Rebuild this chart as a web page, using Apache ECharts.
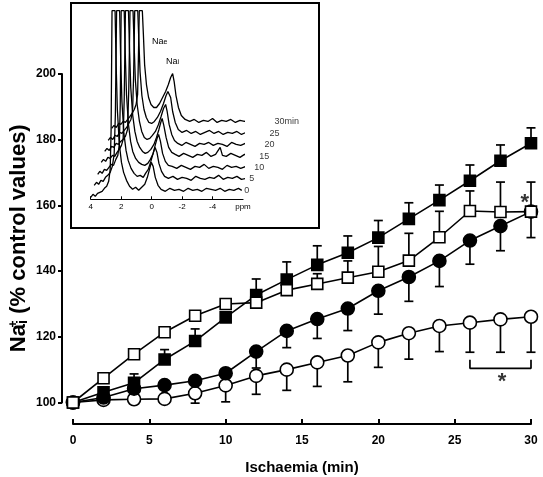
<!DOCTYPE html>
<html><head><meta charset="utf-8">
<script src="https://cdn.jsdelivr.net/npm/echarts@6/dist/echarts.min.js"></script>
<style>html,body{margin:0;padding:0;background:#fff}#c{width:543px;height:477px}</style>
</head><body><div id="c"></div>
<script>
// ---------- main chart data ----------
const times = [0,2,4,6,8,10,12,14,16,18,20,22,24,26,28,30];
const xTicks = [0,5,10,15,20,25,30];
const yTicks = [100,120,140,160,180,200];

const sqFilled    = [100,103.1,106,113.1,118.7,125.9,132.7,137.4,141.9,145.6,150.2,155.9,161.6,167.5,173.6,178.9];
const sqFilledErr = [0,0,2.7,3,3.7,1.5,4.9,5.4,5.8,5.1,5.2,4.9,4.6,4.8,4.8,4.7];

const sqOpen      = [100,107.4,114.7,121.4,126.4,130,130.4,134.2,136.1,138,139.8,143.2,150.3,158.3,158,158.1];
const sqOpenErr   = [0,0,0,0,0,0,0,0,3.1,5.1,7.7,8.3,7.9,6.1,9.1,9];

const ciFilled    = [100,101.5,104.2,105.3,106.6,108.9,115.5,121.8,125.4,128.6,134,138.2,143.1,149.3,153.7,158.1];
const ciFilledErr = [0,0,0,0,0,0,5,5.1,5.9,6.7,7.1,7.4,7.8,7.2,7.5,7.9];

const ciOpen      = [100,100.8,101,101.1,102.8,105.2,108.1,110,112.2,114.3,118.3,121.1,123.3,124.3,125.3,126.1];
const ciOpenErr   = [0,0,0,0,3,5,5.6,6.3,7.3,8,7.6,7.9,7.8,9,10,10.8];

const bracket = [[26,113],[26,110.4],[30,110.4],[30,113]];
const stars = [[29.6,162.2],[28.1,107.9]];

// ---------- inset (NMR spectra) data: [ppm, intensity] ----------
const insetTickVals = [4,2,0,-2,-4,-6];
const insetTickLabels = ['4','2','0','-2','-4','ppm'];
const traceLabels = ['0','5','10','15','20','25','30min'];

const spec0 = [[4.00,2],[3.85,5],[3.7,3],[3.55,6],[3.4,7],[3.25,8],[3.1,11],[2.95,13],[2.82,18],[2.72,30],[2.66,70],[2.60,189],[2.40,189],[2.33,135],[2.25,90],[2.12,55],[1.98,37],[1.84,27],[1.65,19],[1.45,13],[1.25,10],[1.05,12],[0.85,9],[0.65,12],[0.45,15],[0.28,22],[0.14,30],[0.02,37],[-0.1,33],[-0.24,22],[-0.42,14],[-0.62,10],[-0.9,8],[-1.2,11],[-1.5,9],[-1.8,10],[-2.1,8],[-2.4,11],[-2.7,9],[-3.0,10],[-3.3,8],[-3.6,11],[-3.9,10],[-4.2,9],[-4.5,11],[-4.8,8],[-5.1,10],[-5.4,9],[-5.7,11],[-5.92,9]];
const spec5 = [[3.77,14],[3.62,17],[3.48,15],[3.33,19],[3.18,18],[3.03,22],[2.88,24],[2.72,27],[2.58,33],[2.46,45],[2.38,85],[2.30,189],[2.10,189],[2.03,140],[1.95,98],[1.82,66],[1.68,49],[1.54,39],[1.35,31],[1.15,26],[0.95,23],[0.75,24],[0.55,22],[0.4,26],[0.22,30],[0.05,38],[-0.1,46],[-0.23,52],[-0.35,47],[-0.48,36],[-0.65,28],[-0.85,23],[-1.1,21],[-1.4,23],[-1.7,20],[-2.0,22],[-2.3,21],[-2.6,19],[-2.9,23],[-3.2,21],[-3.5,20],[-3.8,22],[-4.1,21],[-4.4,24],[-4.7,20],[-5.0,22],[-5.3,21],[-5.6,23],[-5.9,20],[-6.25,21]];
const spec10 = [[3.54,25],[3.4,28],[3.25,26],[3.1,30],[2.95,29],[2.8,32],[2.65,35],[2.5,34],[2.35,40],[2.22,44],[2.12,55],[2.06,95],[2.0,189],[1.8,189],[1.73,145],[1.65,105],[1.52,75],[1.38,58],[1.24,48],[1.05,41],[0.85,37],[0.65,35],[0.45,34],[0.25,36],[0.08,40],[-0.1,46],[-0.25,55],[-0.38,62],[-0.46,65],[-0.58,58],[-0.72,46],[-0.9,38],[-1.1,34],[-1.35,33],[-1.65,31],[-1.95,34],[-2.25,32],[-2.55,30],[-2.85,33],[-3.15,32],[-3.45,35],[-3.75,31],[-4.05,33],[-4.35,32],[-4.65,30],[-4.95,34],[-5.25,32],[-5.55,33],[-5.85,31],[-6.2,33],[-6.58,32]];
const spec15 = [[3.31,37],[3.16,40],[3.02,38],[2.87,42],[2.72,41],[2.57,44],[2.42,43],[2.27,47],[2.12,50],[1.98,54],[1.87,60],[1.80,100],[1.72,189],[1.52,189],[1.45,150],[1.37,112],[1.24,84],[1.1,68],[0.95,58],[0.78,52],[0.6,48],[0.42,46],[0.25,47],[0.05,50],[-0.15,55],[-0.32,62],[-0.48,70],[-0.6,77],[-0.69,81],[-0.8,74],[-0.95,62],[-1.12,52],[-1.32,47],[-1.55,45],[-1.8,43],[-2.1,46],[-2.4,44],[-2.7,42],[-3.0,45],[-3.3,44],[-3.6,47],[-3.9,43],[-4.2,45],[-4.5,52],[-4.65,44],[-4.9,43],[-5.2,46],[-5.5,44],[-5.8,42],[-6.1,45],[-6.5,44],[-6.91,43]];
const spec20 = [[3.08,48],[2.93,51],[2.78,49],[2.63,53],[2.48,52],[2.33,56],[2.18,55],[2.03,58],[1.88,60],[1.72,63],[1.58,70],[1.5,110],[1.42,189],[1.22,189],[1.15,155],[1.07,120],[0.95,95],[0.8,78],[0.65,68],[0.48,62],[0.3,60],[0.12,61],[-0.05,64],[-0.25,68],[-0.45,75],[-0.62,83],[-0.78,91],[-0.92,95],[-1.02,88],[-1.15,75],[-1.32,65],[-1.5,59],[-1.72,56],[-1.98,54],[-2.25,57],[-2.55,55],[-2.85,53],[-3.15,56],[-3.45,55],[-3.75,57],[-4.05,54],[-4.35,56],[-4.65,55],[-4.95,53],[-5.25,57],[-5.55,55],[-5.85,54],[-6.15,56],[-6.5,55],[-6.85,54],[-7.24,55]];
const spec25 = [[2.85,59],[2.7,62],[2.55,60],[2.4,64],[2.25,63],[2.1,67],[1.95,66],[1.8,69],[1.64,72],[1.5,76],[1.36,80],[1.25,88],[1.18,125],[1.11,189],[0.91,189],[0.84,160],[0.76,128],[0.64,104],[0.5,90],[0.35,82],[0.18,77],[0.0,76],[-0.18,78],[-0.38,82],[-0.58,88],[-0.78,96],[-0.95,104],[-1.07,108],[-1.15,109],[-1.25,102],[-1.38,88],[-1.55,77],[-1.75,70],[-2.0,67],[-2.3,69],[-2.6,66],[-2.9,68],[-3.2,65],[-3.5,67],[-3.8,69],[-4.1,66],[-4.4,68],[-4.7,65],[-5.0,67],[-5.3,66],[-5.6,68],[-5.9,65],[-6.2,67],[-6.55,66],[-6.9,68],[-7.25,65],[-7.57,66]];
const spec30 = [[2.62,71],[2.47,74],[2.32,72],[2.17,76],[2.02,75],[1.87,78],[1.72,77],[1.57,80],[1.42,83],[1.28,86],[1.14,90],[1.02,95],[0.92,105],[0.87,140],[0.81,189],[0.61,189],[0.54,165],[0.46,135],[0.34,115],[0.2,102],[0.04,95],[-0.14,92],[-0.32,92],[-0.52,96],[-0.72,102],[-0.92,108],[-1.1,115],[-1.25,122],[-1.38,126],[-1.48,118],[-1.6,104],[-1.76,92],[-1.95,84],[-2.2,80],[-2.5,78],[-2.8,80],[-3.1,77],[-3.4,79],[-3.7,78],[-4.0,81],[-4.3,77],[-4.6,79],[-4.9,78],[-5.2,80],[-5.5,77],[-5.8,79],[-6.1,78],[-6.4,80],[-6.7,77],[-7.0,79],[-7.3,78],[-7.6,80],[-7.9,78]];
const spectra = [spec0, spec5, spec10, spec15, spec20, spec25, spec30];

// ---------- chart ----------
const FONT = '"Liberation Sans", Arial, sans-serif';
const chart = echarts.init(document.getElementById('c'), null, {renderer:'canvas'});

function pairs(vals){ return times.map((t,i)=>[t, vals[i]]); }

function errSeries(vals, errs, dir){
  return {
    type:'custom', xAxisIndex:0, yAxisIndex:0, z:2, silent:true,
    encode:{x:0, y:1},
    data: times.map((t,i)=>[t, vals[i], errs[i]]),
    renderItem: function(params, api){
      const t = api.value(0), v = api.value(1), e = api.value(2);
      if (!e) return null;
      const p0 = api.coord([t, v]);
      const p1 = api.coord([t, v + dir*e]);
      return {type:'group', children:[
        {type:'line', shape:{x1:p0[0], y1:p0[1], x2:p1[0], y2:p1[1]}, style:{stroke:'#000', lineWidth:1.7}},
        {type:'line', shape:{x1:p1[0]-4.5, y1:p1[1], x2:p1[0]+4.5, y2:p1[1]}, style:{stroke:'#000', lineWidth:1.7}}
      ]};
    }
  };
}

function lineSeries(vals, symbol, fill, size, z){
  return {
    type:'line', xAxisIndex:0, yAxisIndex:0, data: pairs(vals),
    symbol: symbol, symbolSize: size, showAllSymbol:true, clip:false, z:z,
    lineStyle:{color:'#000', width:1.6},
    itemStyle:{color:fill, borderColor:'#000', borderWidth:1.6}
  };
}

const series = [
  errSeries(ciOpen, ciOpenErr, -1),
  errSeries(ciFilled, ciFilledErr, -1),
  errSeries(sqFilled, sqFilledErr, 1),
  errSeries(sqOpen, sqOpenErr, 1),
  lineSeries(ciOpen, 'circle', '#fff', 13, 3),
  lineSeries(ciFilled, 'circle', '#000', 13, 4),
  lineSeries(sqFilled, 'rect', '#000', 11, 5),
  lineSeries(sqOpen, 'rect', '#fff', 11, 6),
  {
    type:'line', xAxisIndex:0, yAxisIndex:0, data: bracket, symbol:'none', clip:false,
    lineStyle:{color:'#000', width:1.7}, z:2
  },
  {
    type:'scatter', xAxisIndex:0, yAxisIndex:0, data: stars, symbolSize:1, clip:false,
    itemStyle:{color:'rgba(0,0,0,0)'},
    label:{show:true, formatter:'*', position:'inside', fontSize:22, fontWeight:'bold', color:'#000', fontFamily:FONT, offset:[0,5]}
  }
];

spectra.forEach((sp, i) => {
  series.push({
    type:'line', xAxisIndex:1, yAxisIndex:1, data: sp, symbol:'none', clip:false, z:2,
    lineStyle:{color:'#000', width:1.3}
  });
});
// trace end labels placed at the last point of each spectrum
series.push({
  type:'scatter', xAxisIndex:1, yAxisIndex:1, symbolSize:1, clip:false, z:3,
  itemStyle:{color:'rgba(0,0,0,0)'},
  data: spectra.map((sp, i) => ({
    value: sp[sp.length-1],
    label:{show:true, position:'right', distance:2, formatter: traceLabels[i], fontSize:9, color:'#000', fontFamily:FONT}
  }))
});

chart.setOption({
  animation:false,
  backgroundColor:'#fff',
  textStyle:{fontFamily:FONT},
  grid:[
    {left:73, right:12, top:74, bottom:74.5, outerBoundsMode:'none', containLabel:false},
    {left:90.7, top:10.7, width:152.3, height:188.6, outerBoundsMode:'none', containLabel:false}
  ],
  xAxis:[
    {
      gridIndex:0, type:'value', min:0, max:30, interval:5, offset:21.5,
      axisLine:{show:true, onZero:false, lineStyle:{color:'#000', width:2}},
      axisTick:{show:true, inside:true, length:5, lineStyle:{color:'#000', width:2}},
      axisLabel:{color:'#000', fontSize:12, fontWeight:'bold', margin:11, fontFamily:FONT},
      splitLine:{show:false},
      name:'Ischaemia (min)', nameLocation:'middle', nameGap:36, nameMoveOverlap:false,
      nameTextStyle:{color:'#000', fontSize:15, fontWeight:'bold', fontFamily:FONT}
    },
    {
      gridIndex:1, type:'value', inverse:true, min:-6, max:4,
      axisLine:{show:true, onZero:false, lineStyle:{color:'#000', width:1.2}},
      axisTick:{show:true, inside:true, length:3, customValues:[4,2,0,-2,-4], lineStyle:{color:'#000', width:1}},
      axisLabel:{color:'#000', fontSize:8, margin:3, fontFamily:FONT, customValues: insetTickVals,
        formatter: v => { const k = insetTickVals.indexOf(v); return k >= 0 ? insetTickLabels[k] : ''; }},
      splitLine:{show:false}
    }
  ],
  yAxis:[
    {
      gridIndex:0, type:'value', min:100, max:200, interval:20, offset:11,
      axisLine:{show:true, onZero:false, lineStyle:{color:'#000', width:2}},
      axisTick:{show:true, inside:false, length:4, lineStyle:{color:'#000', width:2}},
      axisLabel:{color:'#000', fontSize:12, fontWeight:'bold', margin:6, fontFamily:FONT},
      splitLine:{show:false},
      name:'{b|Na}{sup|+}{sub|i}{b| (% control values)}', nameLocation:'middle', nameGap:32, nameRotate:90,
      nameMoveOverlap:false,
      nameTextStyle:{color:'#000', fontFamily:FONT, rich:{
        b:{fontSize:22, fontWeight:'bold', color:'#000', fontFamily:FONT},
        sup:{fontSize:12, fontWeight:'bold', color:'#000', verticalAlign:'top', fontFamily:FONT, width:0},
        sub:{fontSize:15, fontWeight:'bold', color:'#000', verticalAlign:'bottom', fontFamily:FONT}
      }}
    },
    {
      gridIndex:1, type:'value', min:0, max:189, show:false
    }
  ],
  graphic:[
    {type:'rect', shape:{x:71, y:3, width:248, height:225}, style:{fill:'none', stroke:'#000', lineWidth:2}, z:1},
    {type:'text', x:152, y:37, style:{text:'{n|Na}{s|e}', rich:{n:{fontSize:9, fill:'#000', fontFamily:FONT}, s:{fontSize:7, fill:'#000', verticalAlign:'bottom', fontFamily:FONT}}}, z:10},
    {type:'text', x:166, y:57, style:{text:'{n|Na}{s|i}', rich:{n:{fontSize:9, fill:'#000', fontFamily:FONT}, s:{fontSize:7, fill:'#000', verticalAlign:'bottom', fontFamily:FONT}}}, z:10}
  ],
  series: series
});
</script>
</body></html>
